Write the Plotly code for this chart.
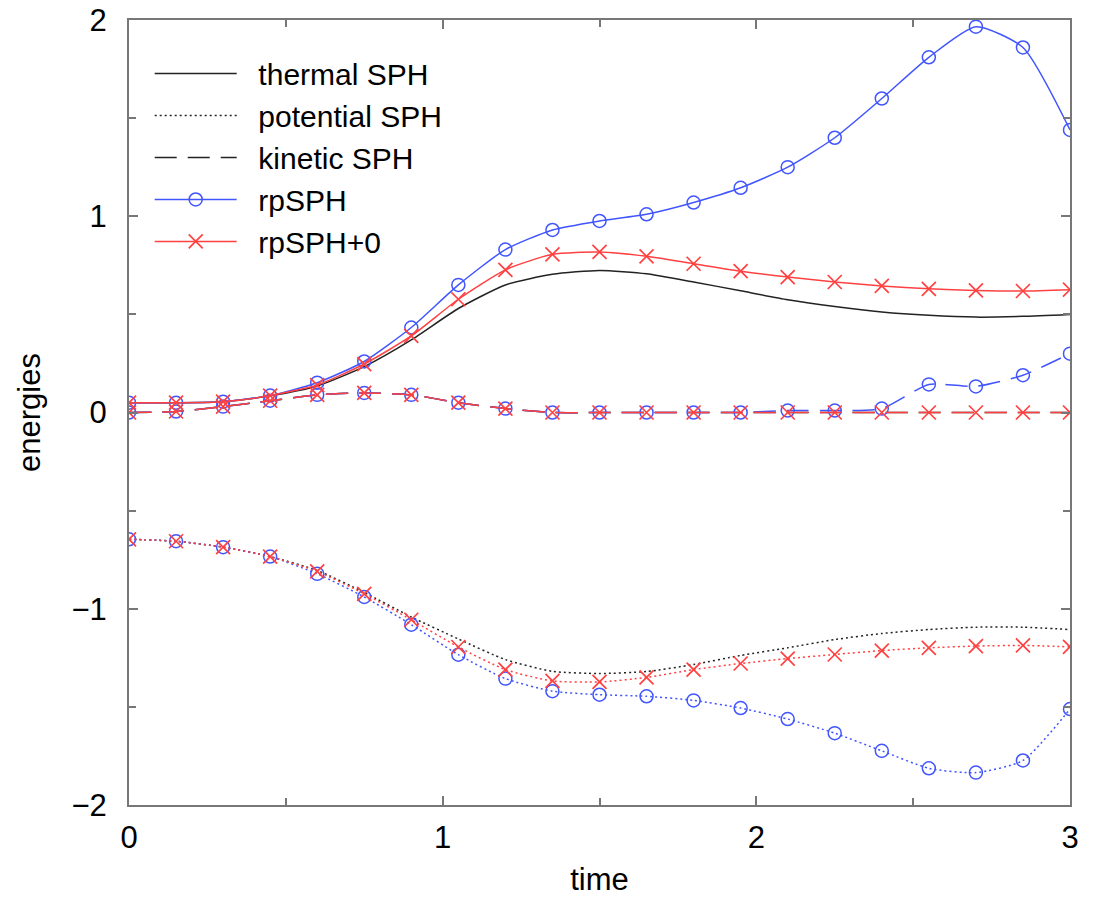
import plotly.graph_objects as go

time = [0.0, 0.15, 0.3, 0.45, 0.6, 0.75, 0.9, 1.05, 1.2, 1.35, 1.5,
        1.65, 1.8, 1.95, 2.1, 2.25, 2.4, 2.55, 2.7, 2.85, 3.0]

# SPH (black, no markers)
thermal_sph = [0.05, 0.05, 0.055, 0.085, 0.135, 0.234, 0.37, 0.53, 0.65, 0.704, 0.724,
               0.707, 0.665, 0.62, 0.575, 0.54, 0.512, 0.495, 0.486, 0.49, 0.50]
potential_sph = [-0.646, -0.656, -0.686, -0.734, -0.805, -0.917, -1.042, -1.154, -1.259, -1.319, -1.33,
                 -1.32, -1.284, -1.238, -1.199, -1.157, -1.126, -1.106, -1.094, -1.094, -1.106]
kinetic_sph = [0.0, 0.005, 0.03, 0.06, 0.09, 0.10, 0.09, 0.05, 0.02, 0.0, 0.0,
               0.0, 0.0, 0.0, 0.0, 0.0, 0.0, 0.0, 0.0, 0.0, 0.0]

# rpSPH (blue, circles)
thermal_rp = [0.05, 0.05, 0.055, 0.086, 0.152, 0.26, 0.433, 0.65, 0.83, 0.93, 0.976,
              1.01, 1.07, 1.145, 1.25, 1.40, 1.60, 1.81, 1.966, 1.86, 1.44]
potential_rp = [-0.646, -0.656, -0.686, -0.734, -0.822, -0.94, -1.081, -1.234, -1.356, -1.42, -1.438,
                -1.446, -1.467, -1.506, -1.562, -1.634, -1.724, -1.813, -1.835, -1.773, -1.511]
kinetic_rp = [0.0, 0.005, 0.03, 0.06, 0.09, 0.10, 0.09, 0.05, 0.02, 0.0, 0.0,
              0.0, 0.0, 0.0, 0.01, 0.01, 0.02, 0.143, 0.133, 0.19, 0.30]

# rpSPH+0 (red, crosses)
thermal_rp0 = [0.05, 0.05, 0.055, 0.086, 0.14, 0.247, 0.39, 0.577, 0.727, 0.806, 0.818,
               0.796, 0.758, 0.72, 0.69, 0.665, 0.645, 0.63, 0.622, 0.619, 0.626]
potential_rp0 = [-0.646, -0.656, -0.686, -0.734, -0.81, -0.924, -1.056, -1.195, -1.31, -1.368, -1.373,
                 -1.35, -1.31, -1.279, -1.254, -1.233, -1.213, -1.199, -1.19, -1.187, -1.194]
kinetic_rp0 = [0.0, 0.005, 0.03, 0.06, 0.09, 0.10, 0.09, 0.05, 0.02, 0.0, 0.0,
               0.0, 0.0, 0.0, 0.0, 0.0, 0.0, 0.0, 0.0, 0.0, 0.0]

BLACK = "#222222"
BLUE = "rgb(65,85,255)"
RED = "rgb(255,65,65)"
DASH = "22px,11px"
DOT = "2px,3px"
NB = "\u00a0\u00a0"

fig = go.Figure()

def add(y, name, color, dash, marker=None, show=False, group=None):
    kw = dict(x=time, y=y, name=NB + name, legendgroup=group or name, showlegend=show,
              line=dict(color=color, width=1.5, dash=dash, shape="spline", smoothing=0.6))
    if marker:
        kw["mode"] = "lines+markers"
        kw["marker"] = marker
    else:
        kw["mode"] = "lines"
    fig.add_trace(go.Scatter(**kw))

circ = dict(symbol="circle-open", size=13, color=BLUE, line=dict(width=1.5, color=BLUE))
cross = dict(symbol="x-thin-open", size=14, color=RED, line=dict(width=1.7, color=RED))

add(thermal_sph, "thermal SPH", BLACK, "solid", show=True)
add(potential_sph, "potential SPH", BLACK, DOT, show=True)
add(kinetic_sph, "kinetic SPH", BLACK, DASH, show=True)
add(thermal_rp, "rpSPH", BLUE, "solid", circ, show=True)
add(potential_rp, "rpSPH pot", BLUE, DOT, circ, group="rpSPH")
add(kinetic_rp, "rpSPH kin", BLUE, DASH, circ, group="rpSPH")
add(thermal_rp0, "rpSPH+0", RED, "solid", cross, show=True)
add(potential_rp0, "rpSPH+0 pot", RED, DOT, cross, group="rpSPH+0")
add(kinetic_rp0, "rpSPH+0 kin", RED, DASH, cross, group="rpSPH+0")

axis_common = dict(showline=True, linecolor="#777777", linewidth=2, mirror="ticks",
                   ticks="inside", ticklen=9, tickcolor="#777777", tickwidth=1.5,
                   showgrid=False, zeroline=False, ticklabeloverflow="allow",
                   automargin=False,
                   tickfont=dict(size=31, color="black"))

fig.update_xaxes(range=[0, 3], tickvals=[0, 1, 2, 3], ticklabelstandoff=4,
                 minor=dict(ticks="inside", dtick=0.5, ticklen=7, tickcolor="#777777", tickwidth=1.5),
                 title=dict(text="time", font=dict(size=31, color="black"), standoff=16),
                 **axis_common)
fig.update_yaxes(range=[-2, 2], tickvals=[-2, -1, 0, 1, 2], ticklabelstandoff=14,
                 minor=dict(ticks="inside", dtick=0.5, ticklen=7, tickcolor="#777777", tickwidth=1.5),
                 title=dict(text="energies", font=dict(size=31, color="black"), standoff=22),
                 **axis_common)

fig.update_layout(
    width=1093, height=897,
    margin=dict(l=129, r=23, t=20, b=92),
    plot_bgcolor="white", paper_bgcolor="white",
    font=dict(family="Liberation Sans, Arial, sans-serif", color="black"),
    legend=dict(x=0.022, y=0.965, xanchor="left", yanchor="top",
                font=dict(size=30, color="black"), bgcolor="rgba(0,0,0,0)",
                itemwidth=82, tracegroupgap=0, traceorder="normal"),
)

fig.write_html("out.html", config={"displayModeBar": False},
               post_script="document.body.style.margin='0';")
